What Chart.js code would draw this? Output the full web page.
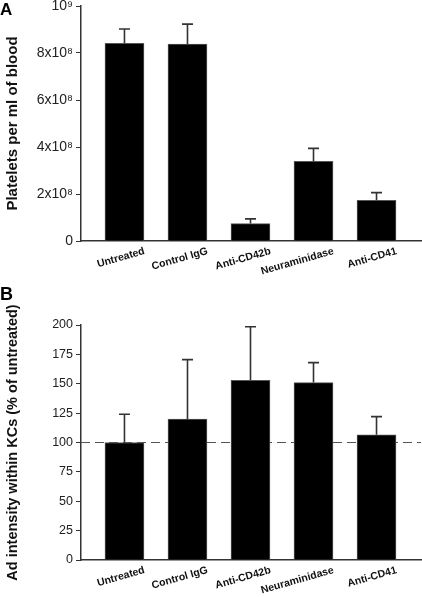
<!DOCTYPE html>
<html>
<head>
<meta charset="utf-8">
<script src="https://cdn.jsdelivr.net/npm/chart.js@4.4.1/dist/chart.umd.min.js"></script>
<style>
  html, body { margin: 0; padding: 0; background: #fff; }
  body { width: 422px; height: 597px; position: relative; overflow: hidden; }
  .wrap { position: absolute; left: 0; width: 422px; }
  #wrapA { top: -10px; height: 300px; }
  #wrapB { top: 300px; height: 297px; }
  .panel { position: absolute; left: 0; z-index: 2; font: bold 17px "Liberation Sans", Arial, sans-serif; line-height: 1; color: #000; }
</style>
</head>
<body>
<div class="panel" style="top:1px">A</div>
<div class="panel" style="top:285px; font-size:18px">B</div>
<div class="wrap" id="wrapA"><canvas id="chartA" width="422" height="300"></canvas></div>
<div class="wrap" id="wrapB"><canvas id="chartB" width="422" height="297"></canvas></div>
<script>
const categories = ['Untreated', 'Control IgG', 'Anti-CD42b', 'Neuraminidase', 'Anti-CD41'];

// panel A: platelets per ml of blood (mean, SEM)
const plateletMeans = [8.41e8, 8.38e8, 0.74e8, 3.39e8, 1.73e8];
const plateletErrors = [0.61e8, 0.85e8, 0.20e8, 0.55e8, 0.33e8];
const plateletTicks = [0, 2e8, 4e8, 6e8, 8e8, 1e9];
const plateletTickLabels = ['0', '2x10⁸', '4x10⁸', '6x10⁸', '8x10⁸', '10⁹'];

// panel B: Ad intensity within KCs, % of untreated
const adMeans = [100, 120, 153, 151, 106.5];
const adErrors = [24, 50.5, 45.5, 17, 15.5];
const adTicks = [0, 25, 50, 75, 100, 125, 150, 175, 200];
const adBaseline = 100;

const FONT = '"Liberation Sans", Arial, sans-serif';

const errorBars = {
  id: 'errorBars',
  afterDatasetsDraw(chart, args, opts) {
    const ctx = chart.ctx;
    const y = chart.scales.y;
    const data = chart.data.datasets[0].data;
    ctx.save();
    ctx.strokeStyle = '#333';
    ctx.lineWidth = 1.6;
    chart.getDatasetMeta(0).data.forEach((bar, i) => {
      const top = y.getPixelForValue(data[i].y + opts.errors[i]);
      ctx.beginPath();
      ctx.moveTo(bar.x, bar.y);
      ctx.lineTo(bar.x, top);
      ctx.moveTo(bar.x - 5.5, top);
      ctx.lineTo(bar.x + 5.5, top);
      ctx.stroke();
    });
    ctx.restore();
  }
};

const refLine = {
  id: 'refLine',
  beforeDatasetsDraw(chart, args, opts) {
    if (opts.value == null) return;
    const ctx = chart.ctx;
    const yp = chart.scales.y.getPixelForValue(opts.value);
    ctx.save();
    ctx.strokeStyle = '#555';
    ctx.lineWidth = 1.2;
    ctx.setLineDash([9, 5]);
    ctx.beginPath();
    ctx.moveTo(chart.chartArea.left, yp);
    ctx.lineTo(chart.chartArea.right, yp);
    ctx.stroke();
    ctx.restore();
  }
};

// slanted category names under the bars
const slantLabels = {
  id: 'slantLabels',
  afterDraw(chart) {
    const ctx = chart.ctx;
    const x = chart.scales.x;
    const base = chart.chartArea.bottom;
    ctx.save();
    ctx.fillStyle = '#111';
    ctx.font = 'bold 10.5px ' + FONT;
    ctx.textAlign = 'right';
    ctx.textBaseline = 'middle';
    categories.forEach((name, i) => {
      ctx.save();
      ctx.translate(x.getPixelForValue(i) + 20, base + 10);
      ctx.rotate(-16 * Math.PI / 180);
      ctx.fillText(name, 0, 0);
      ctx.restore();
    });
    ctx.restore();
  }
};

function makeChart(id, cfg) {
  const ctx = document.getElementById(id).getContext('2d');
  return new Chart(ctx, {
    type: 'bar',
    data: {
      datasets: [{
        data: cfg.means.map((v, i) => ({x: i, y: v})),
        backgroundColor: '#000',
        borderColor: '#555',
        borderWidth: 1,
        barThickness: 39
      }]
    },
    plugins: [errorBars, refLine, slantLabels],
    options: {
      responsive: false,
      animation: false,
      layout: {padding: {top: cfg.padTop, right: 1, left: 0, bottom: 0}},
      plugins: {
        legend: {display: false},
        tooltip: {enabled: false},
        errorBars: {errors: cfg.errors},
        refLine: {value: cfg.baseline}
      },
      scales: {
        x: {
          type: 'linear',
          min: -0.69,
          max: 4.706,
          offset: false,
          grid: {display: false, drawTicks: false, offset: false},
          border: {display: true, color: '#333', width: 1.5},
          afterBuildTicks: s => { s.ticks = categories.map((c, i) => ({value: i})); },
          afterFit: s => { s.height = cfg.xHeight; },
          ticks: {display: false}
        },
        y: {
          min: cfg.ticks[0],
          max: cfg.ticks[cfg.ticks.length - 1],
          afterBuildTicks: s => { s.ticks = cfg.ticks.map(v => ({value: v})); },
          afterFit: s => { s.width = 81; },
          grid: {drawOnChartArea: false, drawTicks: true, tickLength: 5, color: '#333', lineWidth: 1},
          border: {color: '#333', width: 1.5},
          ticks: {
            padding: 3,
            color: '#222',
            font: {family: FONT, size: cfg.tickSize},
            callback: (v, i) => cfg.tickLabels[i]
          },
          title: {
            display: true,
            text: cfg.title,
            color: '#111',
            font: {family: FONT, size: cfg.titleSize, weight: 'bold'},
            padding: {top: 4, bottom: 0}
          }
        }
      }
    }
  });
}

makeChart('chartA', {
  means: plateletMeans,
  errors: plateletErrors,
  ticks: plateletTicks,
  tickLabels: plateletTickLabels,
  title: 'Platelets per ml of blood',
  titleSize: 15,
  tickSize: 14,
  padTop: 16,
  xHeight: 49,
  baseline: null
});

makeChart('chartB', {
  means: adMeans,
  errors: adErrors,
  ticks: adTicks,
  tickLabels: adTicks.map(String),
  title: 'Ad intensity within KCs (% of untreated)',
  titleSize: 14.5,
  tickSize: 12.5,
  padTop: 25,
  xHeight: 37,
  baseline: adBaseline
});
</script>
</body>
</html>
